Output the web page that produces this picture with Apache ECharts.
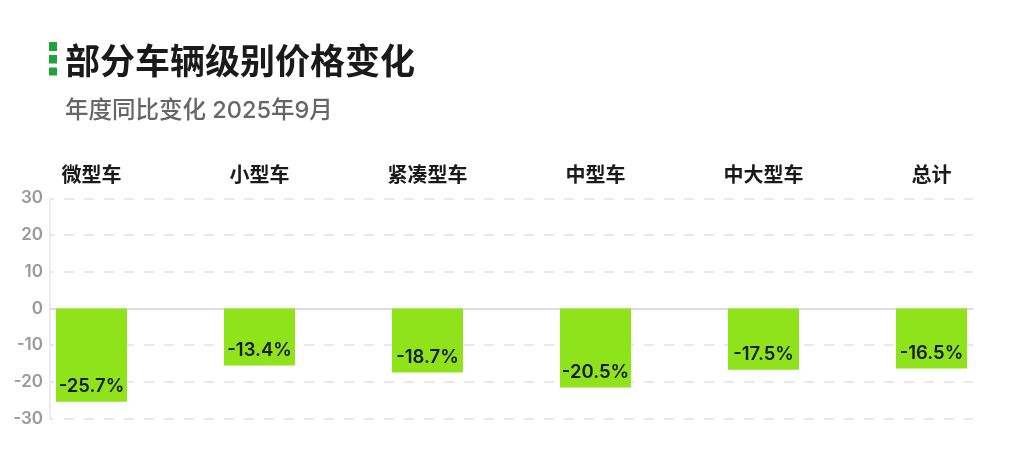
<!DOCTYPE html>
<html>
<head>
<meta charset="utf-8">
<script src="https://cdn.jsdelivr.net/npm/echarts@6/dist/echarts.min.js"></script>
<style>
html,body{margin:0;padding:0;background:#fff;}
#chart{width:1024px;height:472px;}
</style>
</head>
<body>
<div id="chart"></div>
<script>
const categories = ['微型车', '小型车', '紧凑型车', '中型车', '中大型车', '总计'];
const barValues = [-25.4, -15.5, -17.4, -21.5, -16.7, -16.3];
const barLabels = ['-25.7%', '-13.4%', '-18.7%', '-20.5%', '-17.5%', '-16.5%'];
const yTicks = { min: -30, max: 30, interval: 10 };
const titleText = '部分车辆级别价格变化';
const subtitleText = '年度同比变化 2025年9月';

const chart = echarts.init(document.getElementById('chart'), null, { renderer: 'canvas' });
const cjk = '"Noto Sans CJK SC", "Noto Sans", sans-serif';
const latin = 'Inter, "Noto Sans CJK SC", sans-serif';

chart.setOption({
  backgroundColor: '#ffffff',
  animation: false,
  title: [
    { text: titleText, left: 60, top: 38.5,
      textStyle: { fontFamily: cjk, fontSize: 35, fontWeight: 'bold', color: '#1a1a1a' } },
    { text: subtitleText, left: 60, top: 94.5,
      textStyle: { fontFamily: latin, fontSize: 23.5, fontWeight: 500, color: '#666666' } }
  ],
  graphic: [
    { type: 'rect', shape: { x: 49, y: 42, width: 8, height: 9 }, style: { fill: '#21a33b' } },
    { type: 'rect', shape: { x: 49, y: 55, width: 8, height: 8.5 }, style: { fill: '#21a33b' } },
    { type: 'rect', shape: { x: 49, y: 67.5, width: 8, height: 8 }, style: { fill: '#21a33b' } }
  ],
  grid: [
    { left: 50, right: 51, top: 198.3, bottom: 53.3 },
    { left: 7.5, right: 8.5, top: 198.3, bottom: 53.3 }
  ],
  xAxis: [
    { type: 'category', gridIndex: 0, data: categories,
      axisLine: { show: true, onZero: true, lineStyle: { color: '#dddddd', width: 2 } },
      axisTick: { show: false }, axisLabel: { show: false }, splitLine: { show: false } },
    { type: 'category', gridIndex: 1, data: categories, position: 'top',
      axisLine: { show: false }, axisTick: { show: false }, splitLine: { show: false },
      axisLabel: { show: true, margin: 14, fontFamily: cjk, fontSize: 20, fontWeight: 'bold', color: '#1a1a1a' } }
  ],
  yAxis: [
    { type: 'value', gridIndex: 0, min: yTicks.min, max: yTicks.max, interval: yTicks.interval,
      axisLine: { show: true, lineStyle: { color: '#e6e6e6', width: 1.5 } },
      axisTick: { show: false },
      axisLabel: { margin: 7, fontFamily: latin, fontSize: 17, fontWeight: 600, color: '#999999' },
      splitLine: { show: true, lineStyle: { color: '#e2e2e2', width: 1.5, type: [10, 10], dashOffset: 6 } } },
    { type: 'value', gridIndex: 1, min: yTicks.min, max: yTicks.max, interval: yTicks.interval,
      show: false, splitLine: { show: false } }
  ],
  series: [
    { type: 'bar', xAxisIndex: 1, yAxisIndex: 1, data: barValues, barWidth: 71,
      itemStyle: { color: '#8ee31b' },
      label: { show: true, position: 'insideBottom', distance: 6,
        formatter: p => barLabels[p.dataIndex],
        fontFamily: latin, fontSize: 18.5, fontWeight: 600, color: '#1a1a1a' } }
  ]
});
</script>
</body>
</html>
